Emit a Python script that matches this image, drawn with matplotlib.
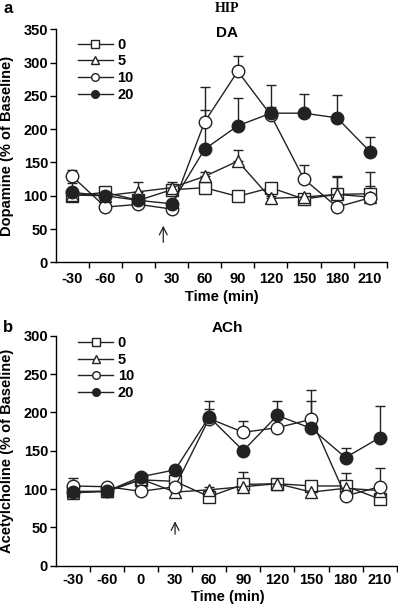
import matplotlib
matplotlib.use("Agg")
import matplotlib.pyplot as plt
import numpy as np
from matplotlib.lines import Line2D

plt.rcParams['font.family'] = ['Liberation Sans', 'DejaVu Sans']
plt.rcParams['font.weight'] = 'bold'

time_labels = ["-30", "-60", "0", "30", "60", "90", "120", "150", "180", "210"]
doses = ["0", "5", "10", "20"]

# DA (% of baseline)
da_0 = [100, 105, 93, 109, 112, 99, 112, 95, 102, 103]
da_5 = [101, 100, 106, 112, 129, 152, 96, 98, 102, 98]
da_10 = [129, 83, 87, 80, 211, 287, 221, 125, 83, 97]
da_20 = [105, 100, 93, 88, 170, 205, 224, 224, 217, 166]
da_0_err = [5, 4, 4, 5, 4, 4, 4, 4, 28, 12]
da_5_err = [4, 4, 15, 8, 6, 16, 4, 4, 4, 4]
da_10_err = [10, 4, 4, 4, 52, 23, 13, 21, 45, 39]
da_20_err = [14, 4, 4, 4, 59, 42, 43, 29, 34, 22]

# ACh (% of baseline)
ach_0 = [97, 97, 112, 110, 90, 106, 107, 104, 104, 87]
ach_5 = [95, 97, 113, 96, 99, 103, 107, 96, 101, 98]
ach_10 = [104, 103, 97, 103, 192, 174, 180, 191, 91, 103]
ach_20 = [96, 97, 116, 125, 194, 150, 196, 179, 141, 167]
ach_0_err = [4, 4, 4, 4, 4, 16, 4, 4, 17, 4]
ach_5_err = [4, 4, 4, 4, 4, 4, 4, 4, 4, 4]
ach_10_err = [11, 4, 4, 4, 13, 15, 4, 38, 4, 24]
ach_20_err = [4, 4, 4, 4, 21, 4, 19, 36, 13, 41]

styles = [dict(marker='s', mfc='white', ms=8.5),
          dict(marker='^', mfc='white', ms=9),
          dict(marker='o', mfc='white', ms=9),
          dict(marker='o', mfc='#222222', ms=9)]

W, H = 398, 607
fig = plt.figure(figsize=(W / 100, H / 100), dpi=100)
ax1 = fig.add_axes([55.7 / W, 1 - 262.3 / H, 331 / W, 233 / H])
ax2 = fig.add_axes([55.7 / W, 1 - 565.7 / H, 341 / W, 230 / H])

x = np.arange(len(time_labels))

def draw(ax, series, errs, ymax, ylabel, xpad, leg_y, arrow_x, arrow_y):
    for s, e, st, lab in zip(series, errs, styles, doses):
        ax.errorbar(x, s, yerr=[np.zeros(len(e)), e], color='#222222', lw=1.0,
                    marker=st['marker'], mfc=st['mfc'], mec='#222222', ms=st['ms'],
                    mew=1.0, capsize=3.5, elinewidth=1.0, capthick=1.0, label=lab)
    ax.set_xlim(-0.5, 9.5)
    ax.set_ylim(0, ymax)
    ax.set_yticks(np.arange(0, ymax + 1, 50))
    ax.set_xticks(x)
    ax.set_xticklabels(time_labels)
    ax.set_xticks(np.arange(0.5, 10, 1), minor=True)
    ax.tick_params(axis='x', which='major', length=0, pad=xpad, labelsize=10.5)
    ax.tick_params(axis='x', which='minor', length=4, direction='out', width=1)
    ax.tick_params(axis='y', length=4, direction='out', width=1, labelsize=10.5, pad=1.5)
    for lbl in ax.get_xticklabels() + ax.get_yticklabels():
        lbl.set_fontweight('bold')
    ax.spines['top'].set_visible(False)
    ax.spines['right'].set_visible(False)
    ax.spines['left'].set_linewidth(1)
    ax.spines['bottom'].set_linewidth(1)
    ax.set_ylabel(ylabel, fontsize=10.5, fontweight='bold')
    handles = [Line2D([0], [0], color='#222222', lw=1, marker=st['marker'],
                      mfc=st['mfc'], mec='#222222', ms=5.5, mew=1)
               for st in styles]
    ax.legend(handles, doses, loc='upper left', bbox_to_anchor=(0.045, leg_y),
              frameon=False, handlelength=2.4, handletextpad=0.3,
              labelspacing=0.18, borderpad=0, prop=dict(weight='bold', size=10.5))
    ax.annotate('', xy=(arrow_x, arrow_y[1]), xytext=(arrow_x, arrow_y[0]),
                arrowprops=dict(arrowstyle='->', lw=0.9, color='#222222',
                                shrinkA=0, shrinkB=0, mutation_scale=14))

draw(ax1, [da_0, da_5, da_10, da_20], [da_0_err, da_5_err, da_10_err, da_20_err],
     350, 'Dopamine (% of Baseline)', 7, 0.995, 2.75, (30, 55))
draw(ax2, [ach_0, ach_5, ach_10, ach_20], [ach_0_err, ach_5_err, ach_10_err, ach_20_err],
     300, 'Acetylcholine (% of Baseline)', 5, 1.03, 3.0, (41, 58))
ax1.yaxis.set_label_coords(-0.125, 0.5)
ax2.yaxis.set_label_coords(-0.122, 0.5)

# x labels
fig.text(222 / W, 1 - 297 / H, 'Time (min)', ha='center', va='center',
         fontsize=10.5, fontweight='bold')
fig.text(228 / W, 1 - 597 / H, 'Time (min)', ha='center', va='center',
         fontsize=10.5, fontweight='bold')
# panel titles
fig.text(227 / W, 1 - 33 / H, 'DA', ha='center', va='center', fontsize=11, fontweight='bold')
fig.text(227 / W, 1 - 328 / H, 'ACh', ha='center', va='center', fontsize=11, fontweight='bold')
fig.text(227 / W, 1 - 8 / H, 'HIP', ha='center', va='center', fontsize=10,
         fontweight='bold', family=['Liberation Serif'])
fig.text(3 / W, 1 - 1 / H, 'a', ha='left', va='top', fontsize=12, fontweight='bold')
fig.text(3 / W, 1 - 327 / H, 'b', ha='left', va='center', fontsize=12, fontweight='bold')

fig.savefig('out.png', dpi=100)
